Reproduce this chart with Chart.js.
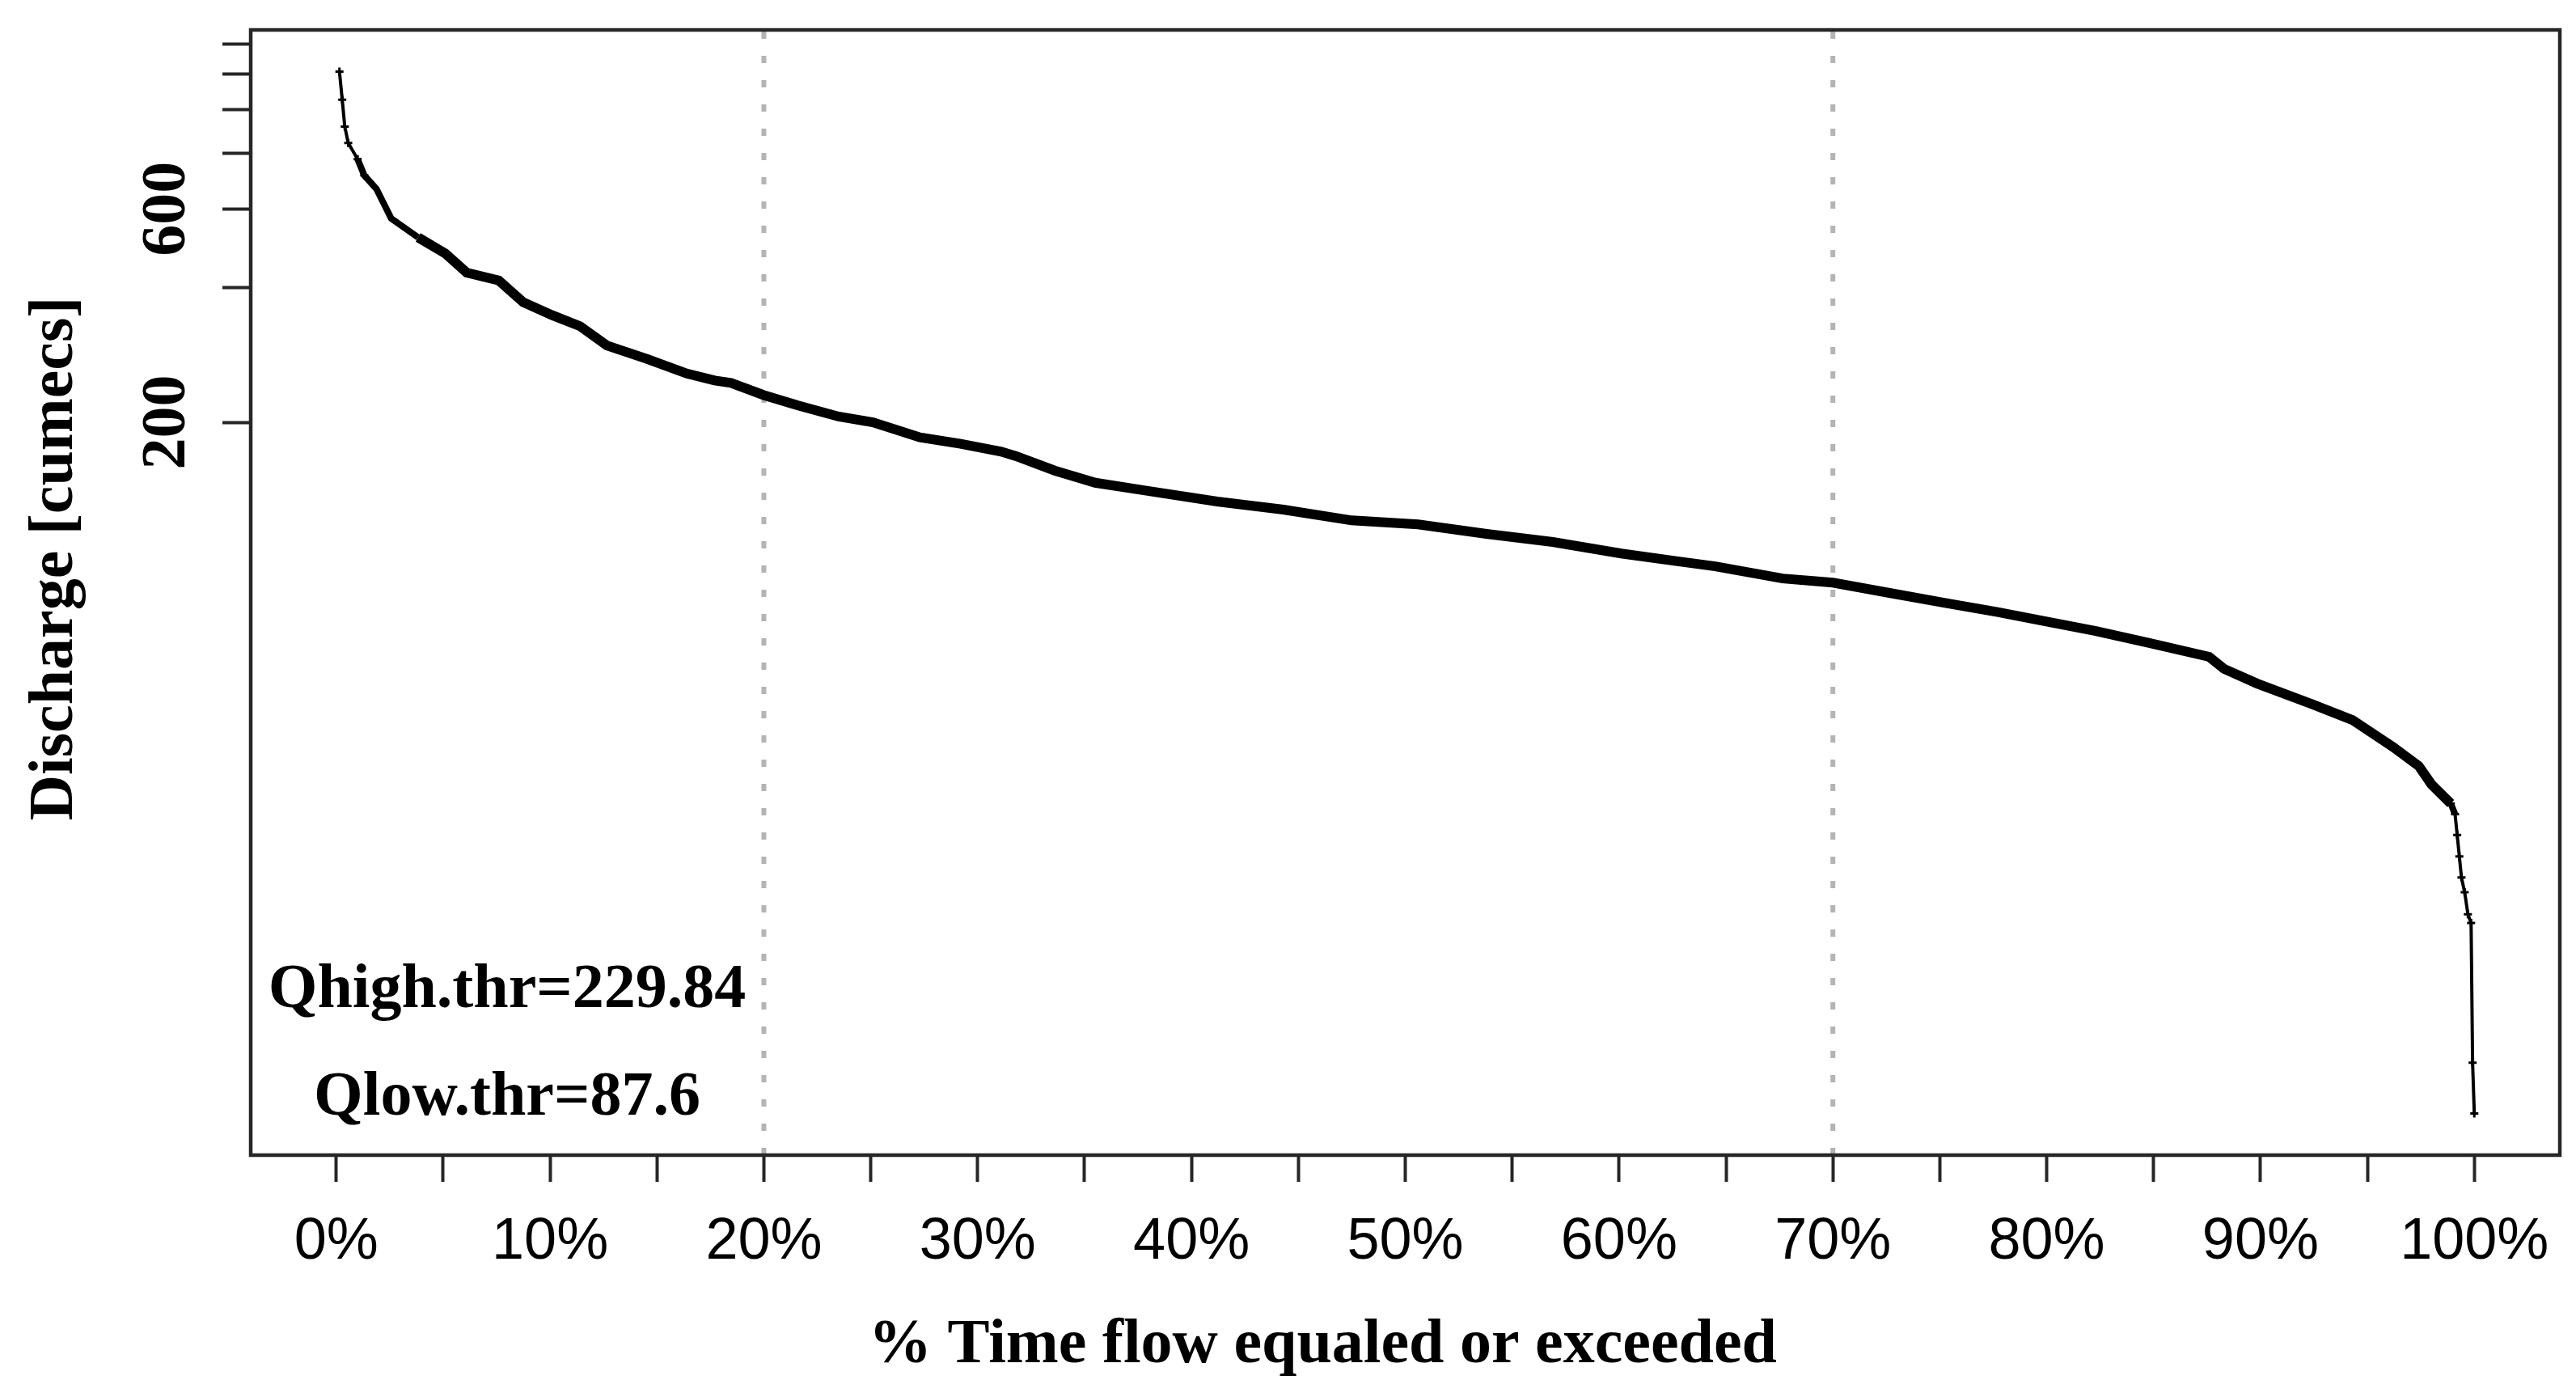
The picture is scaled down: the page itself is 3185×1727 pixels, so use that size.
<!DOCTYPE html>
<html>
<head>
<meta charset="utf-8">
<title>Flow duration curve</title>
<script src="https://cdn.jsdelivr.net/npm/chart.js@4.4.1/dist/chart.umd.min.js"></script>
<style>
  html, body { margin: 0; padding: 0; background: #fff; }
  canvas { display: block; }
</style>
</head>
<body>
<canvas id="fdc" width="3185" height="1727" style="width:3185px;height:1727px"></canvas>
<script>
// % of time a flow is equaled or exceeded
const exceedance = [
    0.15, 0.28, 0.40, 0.56, 1.0, 1.31, 1.88, 2.57, 3.83, 5.1,
    6.1, 7.6, 8.75, 10.1, 11.4, 12.66, 14.55, 16.4, 17.7, 18.46,
    20.0, 21.6, 23.5, 25.1, 27.3, 29.2, 31.1, 31.8, 33.6, 35.5,
    37.9, 41.2, 44.3, 47.5, 50.6, 53.8, 56.9, 60.1, 62.6, 64.5,
    67.65, 70.0, 72.7, 75.2, 77.7, 79.8, 82.3, 84.8, 87.6, 88.3,
    89.85, 92.4, 94.3, 96.2, 97.4, 98.0, 98.9, 99.1, 99.2, 99.3,
    99.4, 99.55, 99.7, 99.85, 99.92, 100
];
// discharge in cumecs
const discharge = [
    1216, 1052, 916, 842, 775, 713, 665, 571, 518, 477,
    432, 415, 371, 347, 328, 297, 277, 257, 248, 245,
    230, 218, 206, 200, 185, 179, 172, 168, 156, 146.5,
    140.6, 133, 127.6, 120.7, 118.2, 112.6, 108, 101.8, 98, 95.3,
    89.5, 87.6, 83, 79, 75.3, 72, 68.3, 64.2, 59.8, 56.2,
    52.1, 46.9, 43.2, 37.6, 34.1, 31, 28.1, 26.6, 23.9, 21.4,
    19.2, 17.8, 15.9, 15.2, 7.4, 5.7
];

const qHigh = 229.84;  // at 20 %
const qLow = 87.6;     // at 70 %
const thresholdPct = [20, 70];

const xTickValues = [0, 5, 10, 15, 20, 25, 30, 35, 40, 45, 50, 55, 60, 65, 70, 75, 80, 85, 90, 95, 100];
const xTickLabels = ['0%', '', '10%', '', '20%', '', '30%', '', '40%', '', '50%', '', '60%', '', '70%', '', '80%', '', '90%', '', '100%'];
const yTickValues = [200, 400, 600, 800, 1000, 1200, 1400];
const yLabelValues = [200, 600];

const xMin = -4, xMax = 104;
const yMin = 4.6, yMax = 1507;

const points = exceedance.map((p, i) => ({ x: p, y: discharge[i] }));

// text that R put outside the library's usual places
const textPlugin = {
    id: 'fdcText',
    afterDraw(chart) {
        const { ctx, chartArea: a, scales: { y } } = chart;
        ctx.save();
        ctx.strokeStyle = '#262626';
        ctx.lineWidth = 4.5;
        ctx.strokeRect(a.left, a.top, a.right - a.left, a.bottom - a.top);

        ctx.fillStyle = '#000';
        ctx.textAlign = 'center';
        ctx.textBaseline = 'alphabetic';
        ctx.font = 'bold 78px "Liberation Serif"';

        yLabelValues.forEach(v => {
            ctx.save();
            ctx.translate(a.left - 82, y.getPixelForValue(v));
            ctx.rotate(-Math.PI / 2);
            ctx.fillText(String(v), 0, 0);
            ctx.restore();
        });

        ctx.save();
        ctx.translate(a.left - 221, (a.top + a.bottom) / 2 - 42);
        ctx.rotate(-Math.PI / 2);
        ctx.fillText('Discharge [cumecs]', 0, 0);
        ctx.restore();

        ctx.fillText('% Time flow equaled or exceeded', (a.left + a.right) / 2 - 102, a.bottom + 256);

        ctx.fillText('Qhigh.thr=' + qHigh, a.left + 317, a.bottom - 183);
        ctx.fillText('Qlow.thr=' + qLow, a.left + 317, a.bottom - 50);
        ctx.restore();
    }
};

const guideSets = thresholdPct.map(p => ({
    data: [{ x: p, y: yMin }, { x: p, y: yMax }],
    borderColor: '#b4b4b4',
    borderWidth: 6,
    borderDash: [9, 21],
    pointRadius: 0,
    order: 2
}));

new Chart(document.getElementById('fdc'), {
    type: 'line',
    data: {
        datasets: [{
            data: points,
            borderColor: '#000',
            backgroundColor: '#000',
            tension: 0,
            pointStyle: 'cross',
            pointRadius: ctx => (ctx.raw && (ctx.raw.x < 1.5 || ctx.raw.x > 98.8)) ? 5 : 0,
            pointBorderWidth: 3,
            pointBorderColor: '#000',
            segment: {
                borderWidth: ctx => {
                    const p = ctx.p0.parsed.x;
                    if (p < 1 || p >= 99.1) return 4;
                    if (p < 2.6 || p > 98) return 8;
                    return 12;
                }
            },
            order: 1
        }, ...guideSets]
    },
    options: {
        responsive: false,
        devicePixelRatio: 1,
        animation: false,
        layout: { padding: { left: 0, right: 20, top: 37, bottom: 0 } },
        plugins: {
            legend: { display: false },
            tooltip: { enabled: false }
        },
        scales: {
            x: {
                type: 'linear',
                min: xMin,
                max: xMax,
                afterBuildTicks: s => { s.ticks = xTickValues.map(v => ({ value: v })); },
                afterFit: s => { s.height = 299; },
                ticks: {
                    autoSkip: false,
                    maxRotation: 0,
                    padding: 32,
                    color: '#000',
                    font: { family: '"Liberation Sans"', size: 72 },
                    callback: v => xTickLabels[xTickValues.indexOf(v)]
                },
                grid: {
                    drawOnChartArea: false,
                    drawTicks: true,
                    tickLength: 33,
                    tickWidth: 4,
                    tickColor: '#262626'
                },
                border: { display: false }
            },
            y: {
                type: 'logarithmic',
                min: yMin,
                max: yMax,
                afterBuildTicks: s => { s.ticks = yTickValues.map(v => ({ value: v })); },
                afterFit: s => { s.width = 310; },
                ticks: { display: false },
                grid: {
                    drawOnChartArea: false,
                    drawTicks: true,
                    tickLength: 35,
                    tickWidth: 4,
                    tickColor: '#262626'
                },
                border: { display: false }
            }
        }
    },
    plugins: [textPlugin]
});
</script>
</body>
</html>
